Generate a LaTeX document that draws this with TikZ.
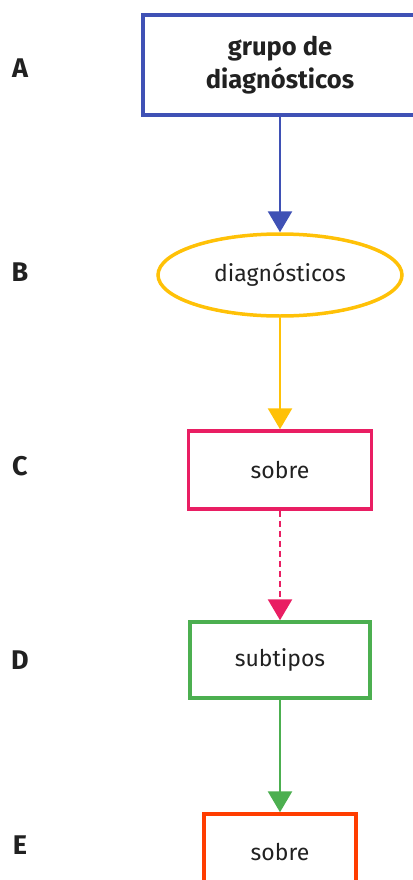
\documentclass[tikz,border=0pt]{standalone}
\usepackage{fontspec}
\setmainfont{Fira Sans}
\usepackage{tikz}
\usetikzlibrary{shapes.geometric, arrows.meta, positioning}
\usepackage{xcolor}
\definecolor{lvlblue}{HTML}{3F51B5}
\definecolor{lvlamber}{HTML}{FFC107}
\definecolor{lvlpink}{HTML}{E91E63}
\definecolor{lvlgreen}{HTML}{4CAF50}
\definecolor{lvlorange}{HTML}{FF3D00}
\definecolor{inkgray}{HTML}{212121}

\begin{document}
\begin{tikzpicture}[
  x=1pt, y=1pt,
  box/.style={rectangle, draw, line width=3.5pt, fill=white, text=inkgray, align=center, font=\fontsize{23}{27}\selectfont},
  oval/.style={ellipse, draw, line width=3.5pt, fill=white, text=inkgray, font=\fontsize{23}{27}\selectfont, inner sep=0pt},
  rowlabel/.style={text=inkgray, font=\fontsize{27}{30}\selectfont\bfseries, inner sep=0pt},
  link/.style={-{Triangle[length=21pt, width=24pt]}, line width=2.8pt},
]
  \useasboundingbox (0,0) rectangle (412,-880);

  % level nodes, top to bottom
  \node[box, draw=lvlblue, minimum width=274pt, minimum height=100pt, font=\fontsize{25.5}{33}\selectfont\bfseries] (grp) at (280,-65) {grupo de\\diagnósticos};
  \node[oval, draw=lvlamber, minimum width=244pt, minimum height=82pt, below=115.5pt of grp] (diag) {diagnósticos};
  \node[box, draw=lvlpink, minimum width=183pt, minimum height=78pt, below=111.5pt of diag] (sobre1) {sobre};
  \node[box, draw=lvlgreen, minimum width=180pt, minimum height=76pt, below=109.5pt of sobre1] (subt) {subtipos};
  \node[box, draw=lvlorange, minimum width=152pt, minimum height=76pt, below=112.5pt of subt] (sobre2) {sobre};

  % row letters
  \node[rowlabel] (la) at (20,-68) {A};
  \node[rowlabel] (lb) at (20,-272) {B};
  \node[rowlabel] (lc) at (20,-466) {C};
  \node[rowlabel] (ld) at (20,-660) {D};
  \node[rowlabel] (le) at (20,-845) {E};

  \draw[link, lvlblue] (grp) -- (diag);
  \draw[link, lvlamber] (diag) -- (sobre1);
  \draw[link, lvlpink, dash pattern=on 6pt off 4pt] (sobre1) -- (subt);
  \draw[link, lvlgreen] (subt) -- (sobre2);
\end{tikzpicture}
\end{document}
